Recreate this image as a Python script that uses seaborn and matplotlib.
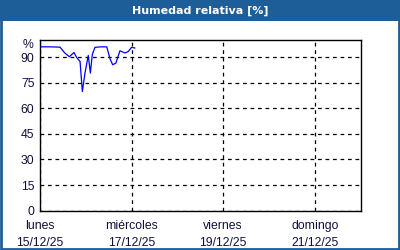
import matplotlib
matplotlib.use("Agg")
import matplotlib.pyplot as plt
from matplotlib.patches import Rectangle
import seaborn as sns
import pandas as pd

# ---- data ----
hours = [0.5, 5, 10.5, 13, 15.4, 17.8, 19.2, 21, 22.2, 23.6, 25.3, 26.4, 27.4, 28.8,
         32, 35, 36.7, 38.1, 39.8, 41.9, 44.5, 46.3, 48, 49.8]
humidity = [96, 96, 95.8, 92.4, 90.2, 92.7, 89.8, 87.4, 69.8, 80.8, 91, 80.6, 91.4, 95.7,
            96, 96, 89, 85.5, 86.5, 93.7, 92.4, 93.3, 95.7, 95.3]
tick_days = ["lunes", "miércoles", "viernes", "domingo"]
tick_dates = ["15/12/25", "17/12/25", "19/12/25", "21/12/25"]
y_ticks = [0, 15, 30, 45, 60, 75, 90]
title = "Humedad relativa [%]"

start = pd.Timestamp("2025-12-15")
df = pd.DataFrame({"time": [start + pd.Timedelta(hours=h) for h in hours],
                   "hum": humidity})

sns.set_style("white")
plt.rcParams["font.family"] = ["Liberation Sans", "DejaVu Sans"]

txt_col = "#101040"
blue = "#1d5e98"
fs = 8.8

fig = plt.figure(figsize=(4, 2.5), dpi=100)
fig.patch.set_facecolor("white")

# title bar and border
fig.patches.append(Rectangle((0, 1 - 20.5 / 250), 1, 20.5 / 250, transform=fig.transFigure,
                             facecolor=blue, edgecolor="none", zorder=0))
fig.patches.append(Rectangle((0.0025, 0.004), 0.995, 0.99, transform=fig.transFigure,
                             facecolor="none", edgecolor=blue, linewidth=2, zorder=5))
fig.text(0.5, 1 - 10.5 / 250, title, color="white", ha="center", va="center",
         fontsize=8, fontweight="bold", family=["DejaVu Sans"])

ax = fig.add_axes([40 / 400, (250 - 210.7) / 250, 320.5 / 400, 170.7 / 250])
sns.lineplot(data=df, x="time", y="hum", ax=ax, color="#0000ff", linewidth=0.9)

ax.set_ylim(0, 100)
ax.set_xlim(start, start + pd.Timedelta(days=7))
ax.set_xlabel("")
ax.set_ylabel("")

major = [start + pd.Timedelta(days=2 * i) for i in range(4)]
minor = [start + pd.Timedelta(days=d) for d in [1, 3, 5, 7]]
ax.set_xticks(major)
ax.set_xticklabels([f"{d}\n{t}" for d, t in zip(tick_days, tick_dates)],
                   linespacing=1.5)
ax.set_xticks(minor, minor=True)
ax.set_yticks(y_ticks)
ax.set_yticklabels([str(v) for v in y_ticks])

ax.tick_params(axis="x", which="both", direction="in", length=3, width=0.8,
               colors="black", labelcolor=txt_col, labelsize=fs, pad=7)
ax.tick_params(axis="y", which="major", direction="out", length=3, width=0.8,
               colors="black", labelcolor=txt_col, labelsize=fs, pad=1)

ax.grid(True, which="major", axis="both", color="black", linestyle=(0, (3, 3)),
        linewidth=0.9)
for s in ax.spines.values():
    s.set_color("black")
    s.set_linewidth(1.0)

ax.text(-0.02, 97, "%", transform=ax.get_yaxis_transform(), ha="right", va="center",
        color=txt_col, fontsize=fs)

fig.savefig("out.png", dpi=100)
